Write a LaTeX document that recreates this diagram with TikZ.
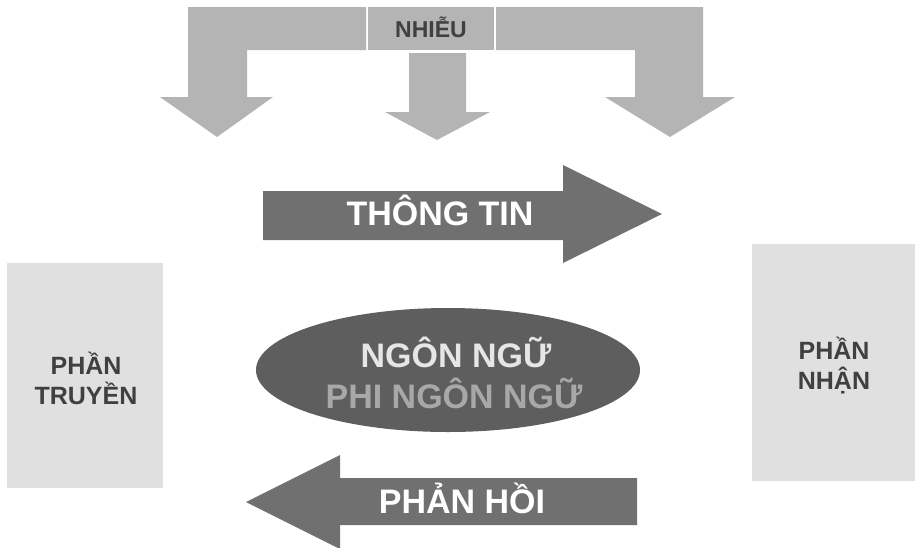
\documentclass[tikz,border=0pt]{standalone}
\usepackage{fontspec}
\setmainfont{Liberation Sans}
\usepackage{xcolor}
\usetikzlibrary{positioning}

\definecolor{noisegray}{HTML}{B4B4B4}
\definecolor{flowgray}{HTML}{707070}
\definecolor{ovalgray}{HTML}{5E5E5E}
\definecolor{boxgray}{HTML}{E0E0E0}
\definecolor{darktext}{HTML}{404040}
\definecolor{lighttext}{HTML}{E6E6E6}
\definecolor{midtext}{HTML}{A8A8A8}

\begin{document}
\begin{tikzpicture}[x=1pt, y=-1pt, inner sep=0pt,
  noise/.style={fill=noisegray},
  flow/.style={fill=flowgray},
  side box/.style={fill=boxgray},
  big text/.style={font=\fontsize{34}{41}\selectfont\bfseries, anchor=base},
  box text/.style={font=\fontsize{25}{30}\selectfont\bfseries, text=darktext, align=center}]
\useasboundingbox (0,0) rectangle (916,547);

% noise on top
\fill[noise] (188,7) -- (366,7) -- (366,50) -- (247,50) -- (247,97) -- (273,97) -- (217,137) -- (160,97) -- (188,97) -- cycle;
\fill[noise] (496,7) -- (703,7) -- (703,97) -- (735,97) -- (670,137) -- (605,97) -- (635,97) -- (635,50) -- (496,50) -- cycle;
\fill[noise] (368,7) rectangle (494,50);
\fill[noise] (409,53) -- (466,53) -- (466,112) -- (490,112) -- (437,140) -- (385,112) -- (409,112) -- cycle;
\node[font=\fontsize{23}{28}\selectfont\bfseries, text=darktext, anchor=base] (noise) at (431,37) {NHIỄU};

% sender and receiver
\fill[side box] (7,263) rectangle (163,488);
\fill[side box] (752,244) rectangle (915,481);
\node[box text] (sender) at (86,378) {PHẦN\\TRUYỀN};
\node[box text] (receiver) at (834,366) {PHẦN\\NHẬN};

% message
\fill[flow] (263,191) -- (563,191) -- (563,165) -- (662,214) -- (563,263) -- (563,240) -- (263,240) -- cycle;
\node[big text, white] (info) at (440,225) {THÔNG TIN};

% channel
\fill[ovalgray] (448,370) ellipse (192 and 62);
\node[big text, text=lighttext] (verbal) at (456,367) {NGÔN NGỮ};
\node[big text, text=midtext] (nonverbal) at (454,408) {PHI NGÔN NGỮ};

% feedback
\fill[flow] (637,478) -- (340,478) -- (340,455) -- (246,502) -- (340,549) -- (340,525) -- (637,525) -- cycle;
\node[big text, white] (feedback) at (462,513) {PHẢN HỒI};
\end{tikzpicture}
\end{document}
